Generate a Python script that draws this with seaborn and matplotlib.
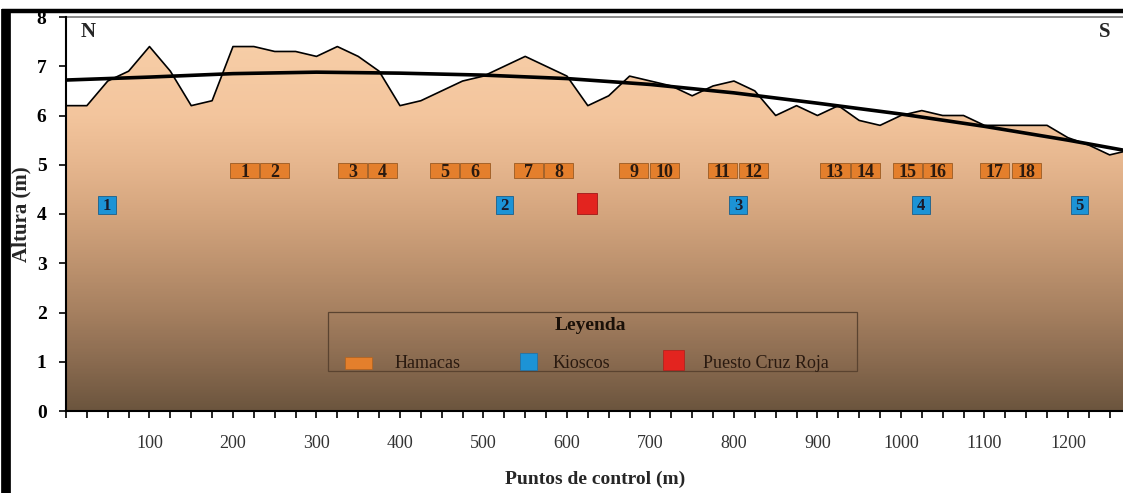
import numpy as np
import pandas as pd
import matplotlib
matplotlib.use("Agg")
import matplotlib.pyplot as plt
import seaborn as sns
from matplotlib.patches import Rectangle
from matplotlib.lines import Line2D
from matplotlib.colors import LinearSegmentedColormap

# ---------------- data ----------------
dist = [0, 25, 50, 75, 100, 125, 150, 175, 200, 225, 250, 275, 300, 325, 350, 375,
        400, 425, 450, 475, 500, 525, 550, 575, 600, 625, 650, 675, 700, 725, 750, 775,
        800, 825, 850, 875, 900, 925, 950, 975, 1000, 1025, 1050, 1075, 1100, 1125,
        1150, 1175, 1200, 1225, 1250, 1275]
altura = [6.2, 6.2, 6.7, 6.9, 7.4, 6.9, 6.2, 6.3, 7.4, 7.4, 7.3, 7.3, 7.2, 7.4, 7.2, 6.9,
          6.2, 6.3, 6.5, 6.7, 6.8, 7.0, 7.2, 7.0, 6.8, 6.2, 6.4, 6.8, 6.7, 6.6, 6.4, 6.6,
          6.7, 6.5, 6.0, 6.2, 6.0, 6.2, 5.9, 5.8, 6.0, 6.1, 6.0, 6.0, 5.8, 5.8,
          5.8, 5.8, 5.55, 5.4, 5.2, 5.3]

trend_x = [0, 100, 200, 300, 400, 500, 600, 700, 800, 900, 1000, 1100, 1200, 1275]
trend_y = [6.72, 6.78, 6.85, 6.88, 6.86, 6.82, 6.75, 6.63, 6.46, 6.25, 6.03, 5.78, 5.50, 5.27]

hamacas_x = [214, 250, 343, 379, 453, 490, 554, 590, 680, 717, 786, 823,
             921, 958, 1008, 1044, 1112, 1150]
hamacas_lbl = [str(i) for i in range(1, 19)]
hamacas_y = 4.89

kioscos_x = [49, 525, 805, 1024, 1214]
kioscos_lbl = ["1", "2", "3", "4", "5"]
kioscos_y = 4.19

cruz_x = [624]
cruz_y = 4.21

x_ticks = [100, 200, 300, 400, 500, 600, 700, 800, 900, 1000, 1100, 1200]
y_ticks = [0, 1, 2, 3, 4, 5, 6, 7, 8]

# ---------------- style ----------------
sns.set_theme(style="white")
plt.rcParams["font.family"] = ["Liberation Serif", "DejaVu Serif"]

W, H = 1123, 493
fig = plt.figure(figsize=(W / 100, H / 100), dpi=100)
fig.patch.set_facecolor("white")

left_px, top_px, bot_px = 66, 17, 411
ax = fig.add_axes([left_px / W, 1 - bot_px / H, 1 - left_px / W, (bot_px - top_px) / H])
XMAX = 1266
ax.set_facecolor("white")

def fx(px):
    return px / W

def fy(py):
    return 1 - py / H

df = pd.DataFrame({"dist": dist, "altura": altura})
tr = pd.DataFrame({"dist": trend_x, "altura": trend_y})

# gradient fill under the profile
poly = ax.fill_between(df["dist"], df["altura"], 0, color="none", lw=0)
cmap = LinearSegmentedColormap.from_list(
    "terrain_grad",
    [(0.00, (108/255, 85/255, 62/255)),
     (0.125, (138/255, 107/255, 80/255)),
     (0.25, (166/255, 128/255, 96/255)),
     (0.375, (190/255, 147/255, 111/255)),
     (0.50, (212/255, 165/255, 126/255)),
     (0.625, (230/255, 182/255, 142/255)),
     (0.75, (243/255, 197/255, 157/255)),
     (1.00, (249/255, 209/255, 171/255))])
grad = np.linspace(0, 1, 400).reshape(-1, 1)
im = ax.imshow(grad, extent=[0, 1300, 0, 8], origin="lower", aspect="auto",
               cmap=cmap, zorder=1)
im.set_clip_path(poly.get_paths()[0], transform=ax.transData)

sns.lineplot(data=df, x="dist", y="altura", ax=ax, color="black", lw=1.2, zorder=3,
             legend=False)
sns.lineplot(data=tr, x="dist", y="altura", ax=ax, color="black", lw=2.6, zorder=4,
             legend=False)
ax.set_xlim(0, XMAX)
ax.set_ylim(0, 8)

# markers
orange = "#E47F2C"
blue = "#1C93D6"
red = "#E3241F"
ax.bar(hamacas_x, 0.30, bottom=hamacas_y - 0.15, width=35, color=orange,
       edgecolor="#9a5a22", linewidth=0.6, zorder=5)
for x, t in zip(hamacas_x, hamacas_lbl):
    ax.text(x, hamacas_y - 0.04, t, ha="center", va="center", fontsize=13,
            fontweight="bold", color="#2a1a10", zorder=6)
ax.bar(kioscos_x, 0.37, bottom=kioscos_y - 0.185, width=21, color=blue,
       edgecolor="#1a5f8a", linewidth=0.6, zorder=5)
for x, t in zip(kioscos_x, kioscos_lbl):
    ax.text(x, kioscos_y - 0.03, t, ha="center", va="center", fontsize=12,
            fontweight="bold", color="#1a1a2a", zorder=6)
ax.bar(cruz_x, 0.43, bottom=cruz_y - 0.215, width=25, color=red,
       edgecolor="#a01818", linewidth=0.6, zorder=5)

# axes styling
ax.set_xticks(x_ticks)
ax.set_xticklabels([str(v) for v in x_ticks], fontsize=13)
ax.set_xticks(np.arange(0, XMAX, 25), minor=True)
ax.set_yticks(y_ticks)
ax.set_yticklabels([str(v) for v in y_ticks], fontsize=14, fontweight="bold")
ax.tick_params(axis="x", which="both", direction="out", length=5, width=1.2,
               colors="black", pad=12, bottom=True)
ax.tick_params(axis="x", which="major", labelcolor="#333333")
ax.tick_params(axis="y", which="major", direction="out", length=5, width=1.2,
               colors="black", pad=9, left=True)
for s in ["left", "bottom"]:
    ax.spines[s].set_color("black")
    ax.spines[s].set_linewidth(1.5)
    ax.spines[s].set_zorder(7)
ax.spines["top"].set_color("#777777")
ax.spines["top"].set_linewidth(1.2)
ax.spines["right"].set_visible(False)
ax.set_xlabel("")
ax.set_ylabel("")

# N / S
fig.text(fx(88), fy(32), "N", fontsize=15, fontweight="bold", ha="center", va="center")
fig.text(fx(1105), fy(32), "S", fontsize=15, fontweight="bold", ha="center", va="center")

# axis titles
fig.text(fx(21), fy(214), "Altura (m)", rotation=90, fontsize=15, fontweight="bold",
         ha="center", va="center")
fig.text(fx(595), fy(479), "Puntos de control (m)", fontsize=14, fontweight="bold",
         ha="center", va="center")

# legend box (drawn manually)
fig.patches.append(Rectangle((fx(328), fy(371)), fx(857) - fx(328), fy(312) - fy(371),
                             transform=fig.transFigure, facecolor="none",
                             edgecolor="#5a4330", linewidth=0.9, zorder=8))
fig.text(fx(590), fy(326), "Leyenda", fontsize=14, fontweight="bold", ha="center",
         va="center", color="#1a1008", zorder=9)
fig.patches.append(Rectangle((fx(345), fy(369)), fx(372) - fx(345), fy(357) - fy(369),
                             transform=fig.transFigure, facecolor=orange,
                             edgecolor="#b0621f", lw=0.5, zorder=9))
fig.patches.append(Rectangle((fx(520), fy(370)), fx(537) - fx(520), fy(353) - fy(370),
                             transform=fig.transFigure, facecolor=blue,
                             edgecolor="#1a6fa8", lw=0.5, zorder=9))
fig.patches.append(Rectangle((fx(663), fy(370)), fx(684) - fx(663), fy(350) - fy(370),
                             transform=fig.transFigure, facecolor=red,
                             edgecolor="#b01c18", lw=0.5, zorder=9))
for xpx, t in [(395, "Hamacas"), (553, "Kioscos"), (703, "Puesto Cruz Roja")]:
    fig.text(fx(xpx), fy(364), t, fontsize=13, ha="left", va="center",
             color="#2a1a10", zorder=9)

# outer black frame (left bar and top line)
fig.lines.append(Line2D([fx(6), fx(6)], [fy(9), 0], transform=fig.transFigure,
                        color="black", lw=7, solid_capstyle="butt"))
fig.lines.append(Line2D([fx(2), 1], [fy(11), fy(11)], transform=fig.transFigure,
                        color="black", lw=3.2, solid_capstyle="butt"))

fig.savefig("out.png", dpi=100)
